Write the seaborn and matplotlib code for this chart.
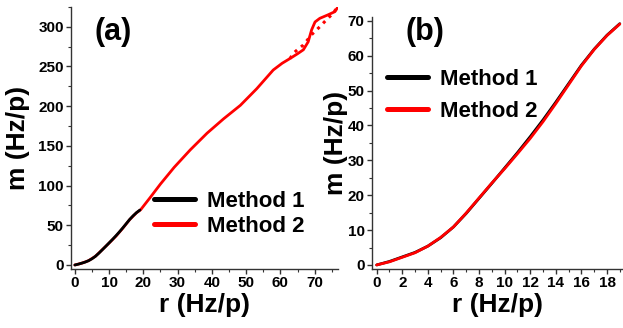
import numpy as np
import pandas as pd
import matplotlib
matplotlib.use("Agg")
import matplotlib.pyplot as plt
import seaborn as sns
from matplotlib.ticker import MultipleLocator
from matplotlib.lines import Line2D

# ---------------- data ----------------
# panel (b) and black curve of panel (a)
b_r = [0, 1, 2, 3, 4, 5, 6, 7, 8, 9, 10, 11, 12, 13, 14, 15, 16, 17, 18, 19]
b_m1 = [0, 1.0, 2.3, 3.6, 5.4, 7.8, 10.9, 14.8, 19.1, 23.4, 27.8, 32.2, 36.8,
        41.6, 46.7, 52.0, 57.3, 61.9, 65.9, 69.2]
b_m2 = [0, 0.9, 2.2, 3.5, 5.4, 7.9, 10.9, 14.9, 19.2, 23.5, 27.6, 31.9, 36.3,
        41.1, 46.3, 51.7, 57.1, 61.8, 65.8, 69.1]

# panel (a) Method 2 (solid red)
a_r2 = [0, 2, 4, 6, 8, 10, 12, 14, 16, 18, 19.2, 22, 25, 29, 33.7, 38.6, 43.4,
        48.3, 53.1, 57.9, 60.5, 62.8, 65, 66.7, 68.1, 69.1, 70.1, 71.5, 73.9,
        75.9, 76.8]
a_m2 = [0, 2.2, 5.4, 10.9, 19.2, 27.6, 36.3, 46.3, 57.1, 65.8, 69.5, 85, 102,
        123, 145, 166, 184, 201, 222, 245.5, 254, 260, 266, 271, 281, 296, 306,
        310.6, 315, 319, 325]
# panel (a) Method 2 dotted branch
a_r3 = [62.8, 63.8, 65.2, 66.7, 68.0, 69.1, 70.3, 71.5, 73.4, 74.9, 76.8]
a_m3 = [260, 266.6, 272, 277, 284, 290, 295, 300, 308.6, 315, 325]

labels = ["Method 1", "Method 2"]

# ---------------- style ----------------
sns.set_style("ticks")
plt.rcParams["font.family"] = ["Liberation Sans", "DejaVu Sans"]
plt.rcParams["font.weight"] = "bold"
plt.rcParams["axes.labelweight"] = "bold"
plt.rcParams["text.color"] = "black"
plt.rcParams["axes.labelcolor"] = "black"
plt.rcParams["xtick.color"] = "black"
plt.rcParams["ytick.color"] = "black"

fig = plt.figure(figsize=(6.23, 3.28), dpi=100)
axA = fig.add_axes([0.1135, 0.180, 0.429, 0.799])
axB = fig.add_axes([0.5966, 0.180, 0.4034, 0.768])

dfA1 = pd.DataFrame({"r": b_r, "m": b_m1})
dfA2 = pd.DataFrame({"r": a_r2, "m": a_m2})
dfA3 = pd.DataFrame({"r": a_r3, "m": a_m3})
dfB1 = pd.DataFrame({"r": b_r, "m": b_m1})
dfB2 = pd.DataFrame({"r": b_r, "m": b_m2})

lw = 2.0
sns.lineplot(data=dfA2, x="r", y="m", ax=axA, color="red", lw=lw, sort=False, estimator=None)
sns.lineplot(data=dfA3, x="r", y="m", ax=axA, color="red", lw=2.2, linestyle=":",
             sort=False, estimator=None)
sns.lineplot(data=dfA1, x="r", y="m", ax=axA, color="black", lw=lw, sort=False, estimator=None)

sns.lineplot(data=dfB1, x="r", y="m", ax=axB, color="black", lw=lw, sort=False, estimator=None)
sns.lineplot(data=dfB2, x="r", y="m", ax=axB, color="red", lw=lw, sort=False, estimator=None)

axA.set_xlim(-1.2, 76.8)
axA.set_ylim(-5, 325)
axB.set_xlim(-0.39, 19.25)
axB.set_ylim(-1.15, 71.1)

axA.xaxis.set_major_locator(MultipleLocator(10))
axA.xaxis.set_minor_locator(MultipleLocator(5))
axA.yaxis.set_major_locator(MultipleLocator(50))
axA.yaxis.set_minor_locator(MultipleLocator(25))
axB.xaxis.set_major_locator(MultipleLocator(2))
axB.xaxis.set_minor_locator(MultipleLocator(1))
axB.yaxis.set_major_locator(MultipleLocator(10))
axB.yaxis.set_minor_locator(MultipleLocator(5))

for ax in (axA, axB):
    sns.despine(ax=ax)
    for s in ("left", "bottom"):
        ax.spines[s].set_linewidth(1.0)
        ax.spines[s].set_color("#333333")
    ax.tick_params(which="major", direction="out", length=3.5, width=1,
                   color="#333333", labelcolor="black", labelsize=11, pad=1.5)
    ax.tick_params(which="minor", direction="out", length=2, width=0.8,
                   color="#333333")
    ax.set_xlabel("r (Hz/p)", fontsize=19, fontweight="bold", labelpad=2, color="black")

axA.set_ylabel("m (Hz/p)", fontsize=19, fontweight="bold", labelpad=6, color="black")
axB.set_ylabel("m (Hz/p)", fontsize=19, fontweight="bold", labelpad=0, color="black")

axA.text(0.158, 0.905, "(a)", transform=axA.transAxes, fontsize=22,
         fontweight="bold", ha="center", va="center", color="black")
axB.text(0.212, 0.94, "(b)", transform=axB.transAxes, fontsize=22,
         fontweight="bold", ha="center", va="center", color="black")

handles = [Line2D([], [], color="black", lw=3.6), Line2D([], [], color="red", lw=3.6)]
common = dict(loc="upper left", frameon=False, prop={"size": 16, "weight": "bold"},
              handlelength=1.84, handletextpad=0.54, borderpad=0, borderaxespad=0,
              labelcolor="black")
axA.legend(handles, labels, bbox_to_anchor=(0.312, 0.298), labelspacing=0.17, **common)
axB.legend(handles, labels, bbox_to_anchor=(0.061, 0.794), labelspacing=0.48, **common)

fig.savefig("out.png", dpi=100)
